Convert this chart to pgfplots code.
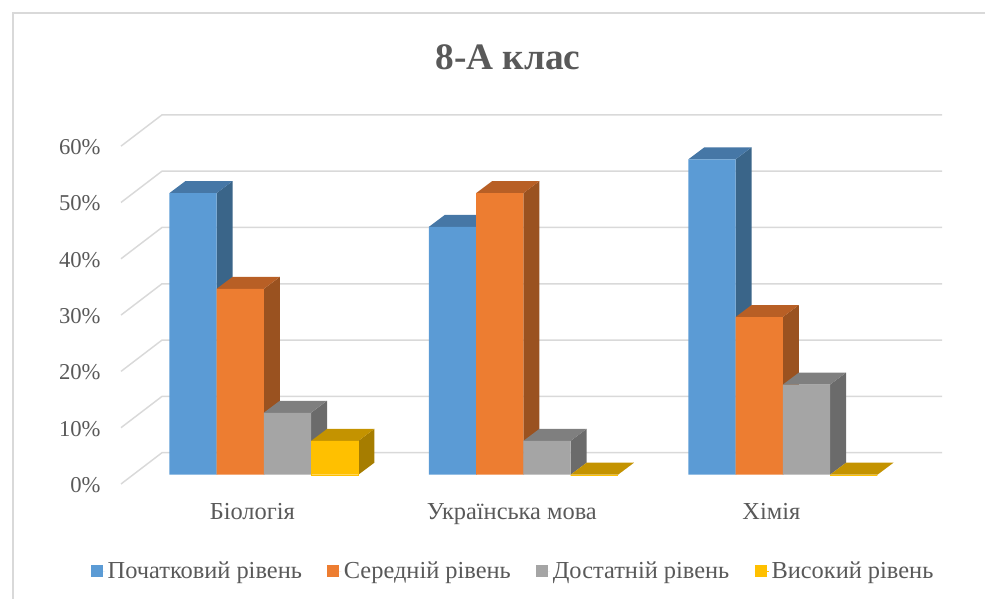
\documentclass[border=0pt]{standalone}
\usepackage{pgfplots}
\pgfplotsset{compat=1.18}
\usepackage{fontspec}
\setmainfont{Liberation Serif}
\definecolor{txt}{HTML}{595959}
\definecolor{gridc}{HTML}{D9D9D9}
\definecolor{cA}{HTML}{5B9BD5}\definecolor{cAt}{HTML}{4677A6}\definecolor{cAs}{HTML}{3A6589}
\definecolor{cB}{HTML}{ED7D31}\definecolor{cBt}{HTML}{B85F25}\definecolor{cBs}{HTML}{9A5220}
\definecolor{cC}{HTML}{A5A5A5}\definecolor{cCt}{HTML}{7F7F7F}\definecolor{cCs}{HTML}{6B6B6B}
\definecolor{cD}{HTML}{FFC000}\definecolor{cDt}{HTML}{C49300}\definecolor{cDs}{HTML}{A67D00}
\newcommand{\depthbar}[4]{% x-left, value, top colour, side colour
  \pgfmathsetmacro{\xa}{#1}\pgfmathsetmacro{\xb}{#1+0.18208}
  \pgfmathsetmacro{\xc}{#1+0.18208+0.06166}\pgfmathsetmacro{\xd}{#1+0.06166}
  \pgfmathsetmacro{\hh}{#2+2.131}
  \addplot[fill=#4,draw=none,forget plot] coordinates {(\xb,0)(\xc,2.131)(\xc,\hh)(\xb,#2)} -- cycle;
  \addplot[fill=#3,draw=none,forget plot] coordinates {(\xa,#2)(\xb,#2)(\xc,\hh)(\xd,\hh)} -- cycle;
}
\newcommand{\gridl}[2]{\addplot[gridc,line width=1.1pt,forget plot] coordinates {(-0.5503,#1)(-0.3923,#2)(2.6135,#2)};}
\begin{document}
\begin{tikzpicture}[x=0.75pt,y=0.75pt]
\useasboundingbox (0,0) rectangle (985,599);
\draw[gridc,line width=1.1pt] (13,0) -- (13,586) -- (985,586);
\node[font=\bfseries\fontsize{28}{32}\selectfont,text=txt] at (508,542) {8-А клас};
\begin{axis}[
  at={(90.75pt,86.25pt)},anchor=south west,
  scale only axis,width=615.75pt,height=276.4pt,
  xmin=-0.5503,xmax=2.6135,ymin=-1.65,ymax=63.8,
  clip=false,
  axis line style={draw=none},
  major tick length=0pt,
  tick style={draw=none},
  ytick={0,10,20,30,40,50,60},
  yticklabels={0\%,10\%,20\%,30\%,40\%,50\%,60\%},
  xtick={0,1,2},
  xticklabels={Біологія,Українська мова,Хімія},
  xticklabel style={font=\fontsize{18.3}{20}\selectfont,text=txt,anchor=base,xshift=-8.6pt,yshift=-27pt},
  yticklabel style={font=\fontsize{17}{20}\selectfont,text=txt,anchor=east,xshift=-11.8pt,yshift=-7.7pt},
  legend style={at={(0.4781,-0.2361)},anchor=center,draw=none,fill=none,
    legend columns=4,font=\fontsize{18.3}{20}\selectfont,text=txt,
    /tikz/every even column/.append style={column sep=17pt}},
  legend image code/.code={\fill[#1,draw=none] (0pt,-4.5pt) rectangle (9pt,4.5pt);\path (0pt,0pt) -- (10.5pt,0pt);},
]
\gridl{-1.65}{3.91}
\gridl{8.35}{13.91}
\gridl{18.35}{23.91}
\gridl{28.35}{33.91}
\gridl{38.35}{43.91}
\gridl{48.35}{53.91}
\gridl{58.35}{63.91}
% Початковий рівень
\depthbar{-0.36416}{50}{cAt}{cAs}\depthbar{0.63584}{44}{cAt}{cAs}\depthbar{1.63584}{56}{cAt}{cAs}
\addplot[ybar,bar width=35.44pt,bar shift=-53.16pt,fill=cA,draw=none] coordinates {(0,50)(1,44)(2,56)};
\addlegendentry{Початковий рівень}
% Середній рівень
\depthbar{-0.18208}{33}{cBt}{cBs}\depthbar{0.81792}{50}{cBt}{cBs}\depthbar{1.81792}{28}{cBt}{cBs}
\addplot[ybar,bar width=35.44pt,bar shift=-17.72pt,fill=cB,draw=none] coordinates {(0,33)(1,50)(2,28)};
\addlegendentry{Середній рівень}
% Достатній рівень
\depthbar{0}{11}{cCt}{cCs}\depthbar{1}{6}{cCt}{cCs}\depthbar{2}{16}{cCt}{cCs}
\addplot[ybar,bar width=35.44pt,bar shift=17.72pt,fill=cC,draw=none] coordinates {(0,11)(1,6)(2,16)};
\addlegendentry{Достатній рівень}
% Високий рівень
\depthbar{0.18208}{6}{cDt}{cDs}\depthbar{1.18208}{0}{cDt}{cDs}\depthbar{2.18208}{0}{cDt}{cDs}
\addplot[ybar,bar width=35.44pt,bar shift=53.16pt,fill=cD,draw=cD,line width=0.2pt] coordinates {(0,6)(1,0)(2,0)};
\addlegendentry{Високий рівень}
\end{axis}
\end{tikzpicture}
\end{document}
